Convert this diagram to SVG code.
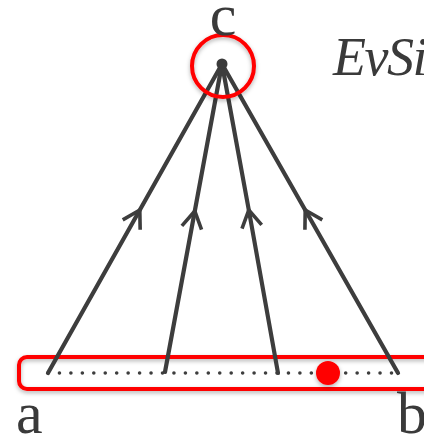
<svg xmlns="http://www.w3.org/2000/svg" width="424" height="438" viewBox="0 0 424 438">
  <defs>
    <filter id="sh" x="-20%" y="-50%" width="140%" height="200%">
      <feDropShadow dx="0" dy="2" stdDeviation="2" flood-color="#000" flood-opacity="0.3"/>
    </filter>
    <marker id="chev" markerUnits="userSpaceOnUse" markerWidth="44" markerHeight="44" viewBox="-22 -22 44 44" refX="0" refY="0" orient="auto">
      <path d="M -17 -10 L 0 0 L -17 10" fill="none" stroke="#3d3d3d" stroke-width="3.6" stroke-linecap="butt" stroke-linejoin="miter"/>
    </marker>
    <style>
      .lbl { font-family: "Liberation Serif", "Times New Roman", serif; font-size: 60px; fill: #3a3a3a; }
      .ital { font-family: "Liberation Serif", "Times New Roman", serif; font-style: italic; font-size: 54px; letter-spacing: -1.5px; fill: #3a3a3a; }
      .edge { fill: none; stroke: #3d3d3d; stroke-width: 4.2; stroke-linecap: round; marker-mid: url(#chev); }
      .red { fill: none; stroke: #ff0000; stroke-width: 4; }
    </style>
  </defs>

  <g id="segment-ab">
    <rect x="19" y="357" width="430" height="32" rx="8" ry="8" class="red" filter="url(#sh)" fill="#fff"/>
    <line x1="48" y1="373" x2="398" y2="373" stroke="#3d3d3d" stroke-width="3.6" stroke-linecap="round" stroke-dasharray="0 11.45"/>
    <text class="lbl" x="16" y="433">a</text>
    <text class="lbl" x="397" y="433">b</text>
  </g>

  <g id="connectors">
    <polyline class="edge" points="48,373 139.8,210 222,64"/>
    <polyline class="edge" points="165,372 194.8,211 222,64"/>
    <polyline class="edge" points="278,373 248.8,210 222,64"/>
    <polyline class="edge" points="398,373 305.2,210 222,64"/>
  </g>

  <g id="node-c">
    <circle cx="223" cy="66" r="31" class="red" filter="url(#sh)"/>
    <circle cx="222" cy="64" r="5.5" fill="#3a3a3a"/>
    <text class="lbl" x="223" y="35" text-anchor="middle">c</text>
  </g>

  <g id="point">
    <circle cx="328" cy="373" r="12" fill="#ff0000" filter="url(#sh)"/>
  </g>

  <g id="label-evsi">
    <text class="ital" x="333" y="75">EvSi</text>
  </g>
</svg>
